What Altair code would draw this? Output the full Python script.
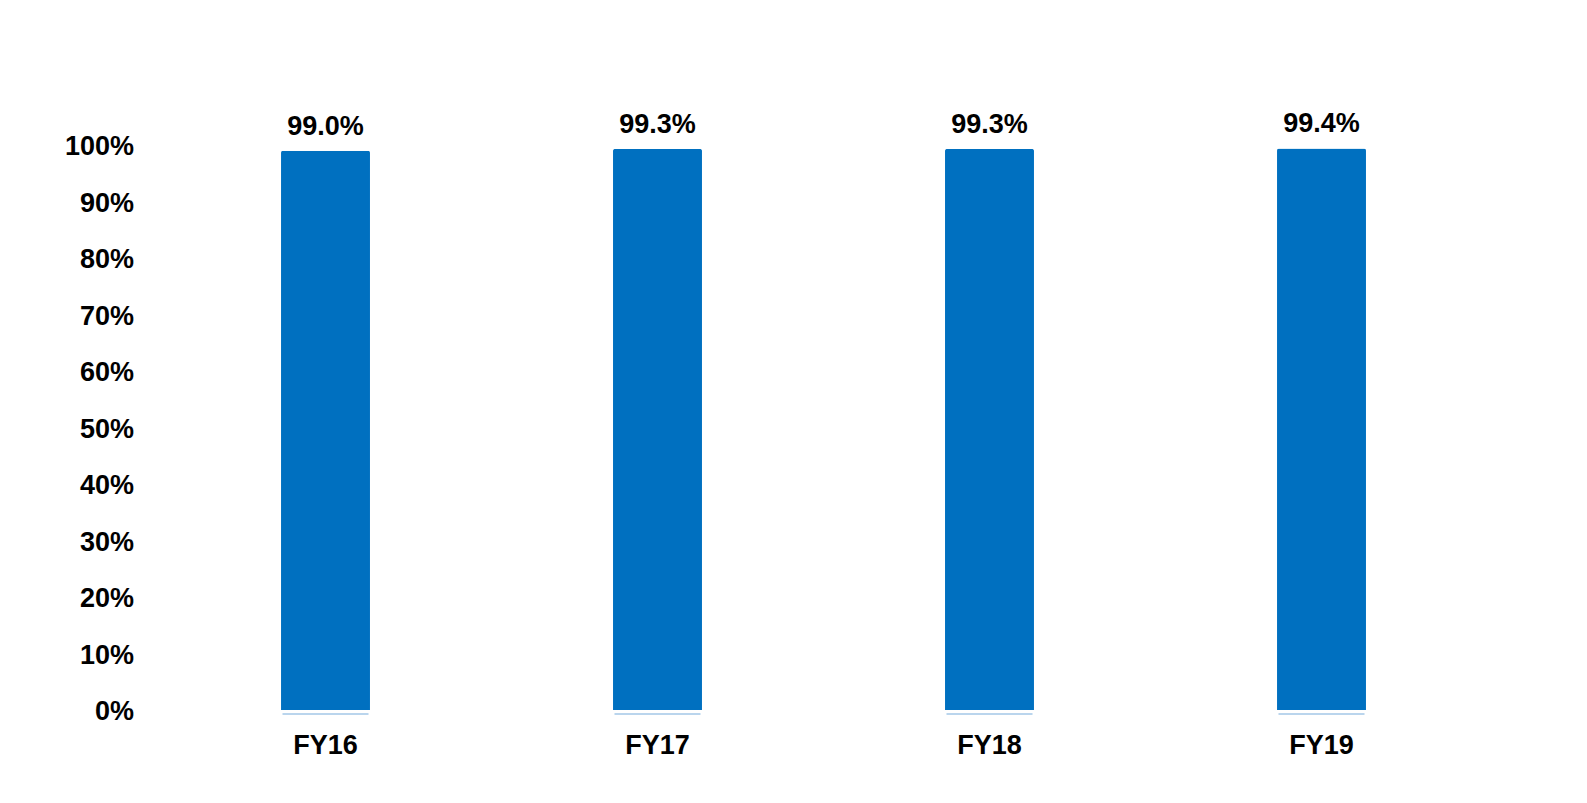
import altair as alt
import pandas as pd

years = ["FY16", "FY17", "FY18", "FY19"]
values = [0.990, 0.993, 0.993, 0.994]
labels = ["99.0%", "99.3%", "99.3%", "99.4%"]
base_values = [0, 0, 0, 0]

df = pd.DataFrame({"year": years, "value": values, "label": labels, "base": base_values})

FONT = "Liberation Sans"
FS = 27

x_enc = alt.X(
    "year:N",
    sort=years,
    scale=alt.Scale(paddingInner=0.732, paddingOuter=0.366),
    axis=alt.Axis(
        title=None, labelAngle=0, domain=False, ticks=False,
        labelFont=FONT, labelFontSize=FS, labelFontWeight="bold",
        labelColor="#000000", labelPadding=22,
    ),
)

y_enc = alt.Y(
    "value:Q",
    scale=alt.Scale(domain=[0, 1], nice=False),
    axis=alt.Axis(
        title=None, values=[i / 10 for i in range(11)], format=".0%",
        domain=False, ticks=False, grid=False,
        labelFont=FONT, labelFontSize=FS, labelFontWeight="bold",
        labelColor="#000000", labelPadding=26, labelOffset=1.5,
    ),
)

bars = alt.Chart(df).mark_bar(
    color="#0070C0", cornerRadiusTopLeft=2, cornerRadiusTopRight=2
).encode(x=x_enc, y=y_enc)

strip = alt.Chart(df).mark_tick(
    color="#9DC3E6", thickness=2, orient="horizontal", yOffset=4, size=86
).encode(x=alt.X("year:N", sort=years), y=alt.Y("base:Q"))

text = alt.Chart(df).mark_text(
    font=FONT, fontSize=FS, fontWeight="bold", color="#000000",
    baseline="alphabetic", dy=-16,
).encode(x=alt.X("year:N", sort=years), y=alt.Y("value:Q"), text="label:N")

chart = (bars + strip + text).properties(
    width=1328, height=565,
    autosize=alt.AutoSizeParams(type="none"),
    padding={"left": 151.5, "top": 137, "right": 91.5, "bottom": 85},
    background="#FFFFFF",
).configure_view(stroke=None)

chart.save("out.html", embed_options={"renderer": "svg", "actions": False})
